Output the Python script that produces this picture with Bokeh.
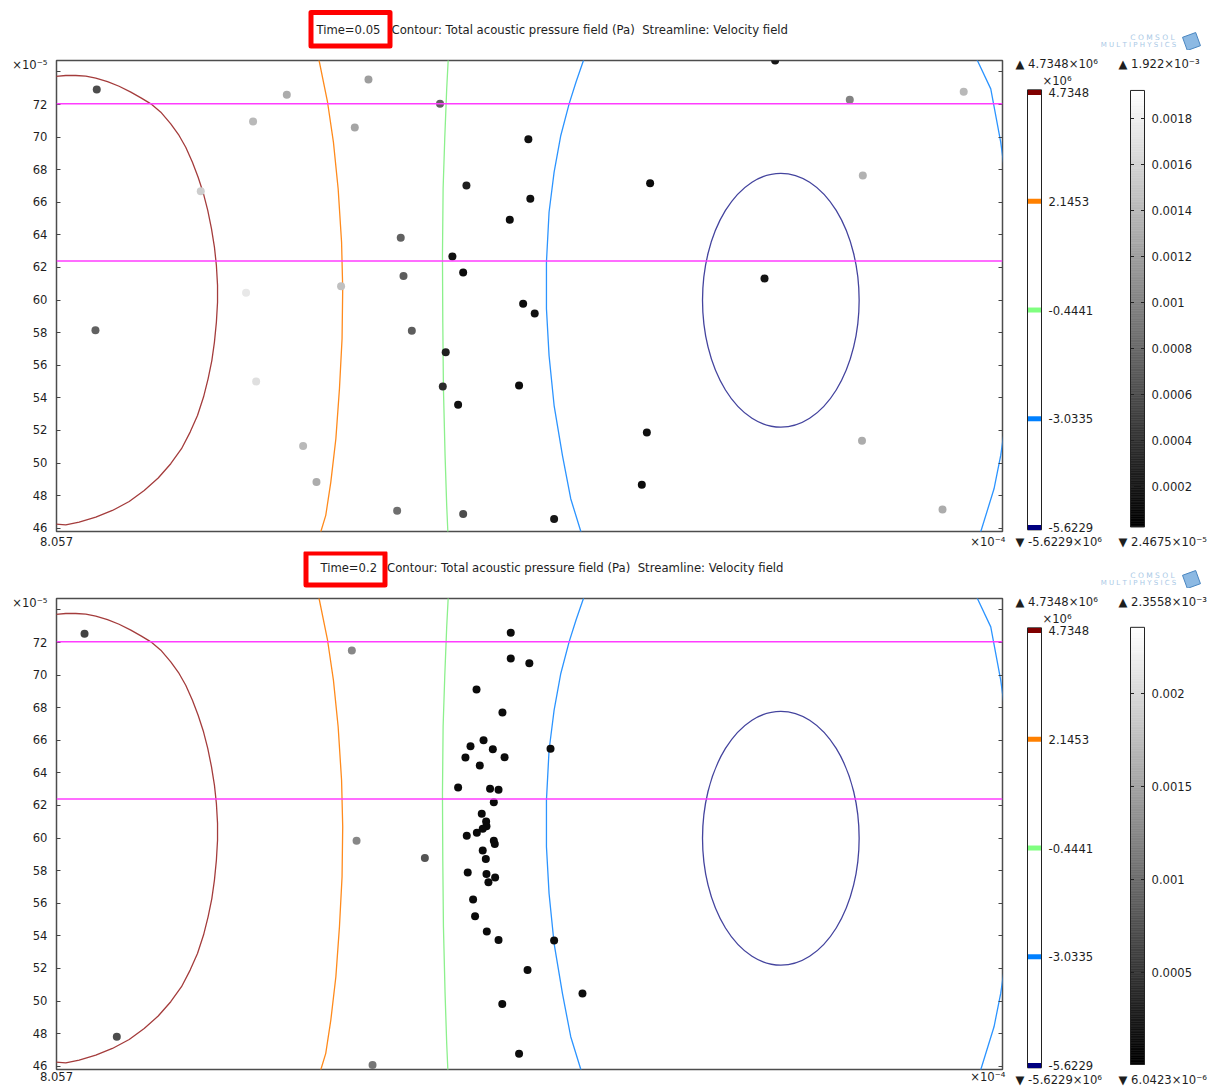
import numpy as np
from bokeh.plotting import figure
from bokeh.layouts import column, row
from bokeh.models import Range1d, LinearAxis, FixedTicker, Span, ColumnDataSource
from bokeh.transform import linear_cmap
from bokeh.core.properties import value
from bokeh.embed import file_html
from bokeh.resources import INLINE

FONT = "DejaVu Sans"
TXT = "#1e1e1e"
FS = "11.6px"

# ---------------- data ----------------
time_labels = ["Time=0.05", "Time=0.2"]
caption = "Contour: Total acoustic pressure field (Pa)\u00a0 Streamline: Velocity field"

# x in units of 1e-5 m (axis shows 8.057 x1e-4), y in units of 1e-5 m
x_start, x_end = 80.57, 138.61
y_start, y_end = 45.80, 74.70
y_ticks = list(range(46, 76, 2))
y_exp_pos, y_exp_label = 74.45, "×10⁻⁵"
x_tick_values = [80.571, 137.71]
x_tick_labels = ["8.057", "×10⁻⁴"]

# pressure contour levels (x1e6 Pa)
pressure_levels = [4.7348, 2.1453, -0.4441, -3.0335, -5.6229]
pressure_max_label = "4.7348×10⁶"
pressure_min_label = "-5.6229×10⁶"

# contour 4.7348
c_hi_x = [80.0, 80.53, 81.14, 81.75, 82.37, 82.98, 83.70, 84.41, 85.13, 85.78, 86.36, 86.97,
          87.58, 88.09, 88.50, 88.91, 89.26, 89.59, 89.85, 90.08, 90.26, 90.38, 90.45, 90.45,
          90.38, 90.26, 90.10, 89.87, 89.59, 89.22, 88.77, 88.24, 87.58, 86.81, 85.95, 85.03,
          84.00, 82.98, 81.96, 81.14, 80.53, 80.0]
c_hi_y = [73.60, 73.72, 73.78, 73.78, 73.74, 73.62, 73.41, 73.12, 72.76, 72.39, 72.04, 71.53,
          70.81, 70.10, 69.38, 68.46, 67.54, 66.52, 65.50, 64.37, 63.25, 62.12, 60.90, 59.87,
          58.65, 57.42, 56.29, 55.17, 54.05, 52.92, 51.90, 50.88, 49.96, 49.08, 48.32, 47.64,
          47.09, 46.68, 46.38, 46.21, 46.25, 46.35]
# contour 2.1453
c_or_x = [96.60, 96.68, 97.20, 97.56, 97.85, 98.06, 98.13, 98.09, 97.93, 97.71, 97.40, 97.09, 96.79, 96.69]
c_or_y = [75.01, 74.70, 72.14, 69.69, 66.83, 63.55, 60.69, 57.63, 54.56, 51.49, 48.83, 46.79, 45.80, 45.50]
# contour -0.4441
c_gr_x = [104.60, 104.60, 104.51, 104.39, 104.29, 104.25, 104.27, 104.31, 104.41, 104.51, 104.58, 104.59]
c_gr_y = [75.01, 74.70, 72.96, 69.90, 66.83, 62.74, 58.64, 54.56, 50.47, 47.40, 45.80, 45.50]
# contour -3.0335 (two branches)
c_bl_x = [113.00, 112.90, 112.45, 112.02, 111.51, 111.10, 110.79, 110.63, 110.63, 110.79, 111.10,
          111.61, 112.12, 112.74, 112.83]
c_bl_y = [75.01, 74.70, 73.40, 72.04, 70.10, 67.85, 65.39, 62.33, 59.47, 56.60, 53.53,
          50.47, 47.81, 45.80, 45.50]
c_bl2_x = [136.91, 137.07, 137.89, 138.50, 138.99, 139.24, 138.99, 138.50, 138.09, 137.28, 137.15]
c_bl2_y = [75.01, 74.70, 72.96, 69.69, 66.11, 59.98, 53.84, 50.47, 48.42, 45.80, 45.50]
# contour -5.6229 (closed loop)
c_lo_cx, c_lo_cy, c_lo_w, c_lo_h = 125.01, 59.99, 9.61, 15.58

# streamlines of the velocity field
streamline_y = [72.04, 62.39]

# particle positions and speeds (x1e-3 m/s)
p1_x = [83.04, 94.70, 99.71, 104.10, 92.63, 98.87, 109.52, 105.72, 109.64, 108.38, 89.42, 101.69,
        104.86, 105.52, 101.86, 92.20, 98.03, 109.20, 102.37, 82.96, 104.45, 92.82, 104.27, 108.95,
        105.21, 95.70, 96.52, 101.47, 105.52, 124.66, 129.24, 136.23, 116.99, 130.04, 124.01,
        109.91, 116.79, 129.99, 116.48, 111.10, 134.93]
p1_y = [72.92, 72.60, 73.53, 72.04, 70.96, 70.59, 69.87, 67.03, 66.21, 64.93, 66.68, 63.82,
        62.67, 61.69, 61.47, 60.45, 60.85, 59.77, 58.12, 58.15, 56.80, 55.01, 54.70, 54.76,
        53.58, 51.04, 48.83, 47.07, 46.87, 74.70, 72.29, 72.78, 67.17, 67.64, 61.33,
        59.18, 51.88, 51.37, 48.67, 46.56, 47.15]
p1_speed = [0.60, 1.30, 1.20, 0.75, 1.40, 1.25, 0.15, 0.25, 0.15, 0.12, 1.55, 0.75,
            0.15, 0.12, 0.72, 1.75, 1.45, 0.12, 0.72, 0.75, 0.25, 1.68, 0.35, 0.12,
            0.15, 1.40, 1.30, 0.85, 0.60, 0.20, 1.00, 1.40, 0.12, 1.35, 0.18,
            0.15, 0.15, 1.30, 0.12, 0.20, 1.30]

p2_x = [82.29, 98.69, 108.44, 108.44, 109.58, 106.34, 107.93, 106.77, 105.97, 107.34, 105.66, 108.06,
        106.54, 105.21, 107.17, 107.69, 107.40, 106.66, 106.93, 106.95, 106.72, 106.36, 105.74, 107.40,
        107.46, 106.72, 106.91, 105.80, 106.95, 107.48, 107.07, 106.13, 106.25, 106.97, 107.69, 109.47,
        107.92, 108.95, 98.98, 103.17, 84.27, 99.96, 110.88, 111.10, 112.84]
p2_y = [72.53, 71.51, 72.60, 71.02, 70.72, 69.12, 67.71, 66.01, 65.64, 65.45, 64.94, 64.96,
        64.45, 63.10, 63.02, 62.96, 62.20, 61.49, 61.02, 60.73, 60.57, 60.33, 60.14, 59.83,
        59.63, 59.24, 58.71, 57.89, 57.79, 57.58, 57.29, 56.23, 55.21, 54.27, 53.74, 51.90,
        49.82, 46.77, 59.83, 58.77, 47.81, 46.07, 65.48, 53.72, 50.47]
p2_speed = [0.62, 1.25, 0.12, 0.11, 0.12, 0.10, 0.12, 0.10, 0.11, 0.10, 0.10, 0.12,
            0.11, 0.10, 0.10, 0.11, 0.10, 0.10, 0.11, 0.10, 0.10, 0.10, 0.11, 0.10,
            0.10, 0.10, 0.11, 0.10, 0.10, 0.11, 0.10, 0.11, 0.10, 0.11, 0.12, 0.12,
            0.12, 0.13, 1.25, 0.78, 0.72, 1.10, 0.12, 0.12, 0.13]

speed_low = [2.4675e-5, 6.0423e-6]
speed_high = [1.922e-3, 2.3558e-3]
speed_max_label = ["1.922×10⁻³", "2.3558×10⁻³"]
speed_min_label = ["2.4675×10⁻⁵", "6.0423×10⁻⁶"]
speed_ticks = [[0.0002, 0.0004, 0.0006, 0.0008, 0.001, 0.0012, 0.0014, 0.0016, 0.0018],
               [0.0005, 0.001, 0.0015, 0.002]]

# ---------------- styling ----------------
GRAYS = ["#%02x%02x%02x" % (i, i, i) for i in range(256)]
level_colors = ["#800000", "#ff8000", "#80ff80", "#0080ff", "#000080"]
line_colors = ["#a43c3c", "#ff8a1c", "#8cf08c", "#2c94ff", "#44449e"]
MAGENTA = "#ff3cff"
LOGO = "#a9c9e6"
BLANK = {t: "" for t in y_ticks}


def text_kw(size=FS, color=TXT, align="left", baseline="middle"):
    return dict(text_font=value(FONT), text_font_size=size, text_color=color,
                text_align=align, text_baseline=baseline)


def header(i, height, box, ty, logo_y):
    h = figure(width=1213, height=height, x_range=Range1d(0, 1213), y_range=Range1d(height, 0),
               output_backend="svg", toolbar_location=None, min_border=0,
               x_axis_location=None, y_axis_location=None, outline_line_color=None)
    h.grid.visible = False
    l, r, t, b = box
    h.quad(left=[l], right=[r], top=[t], bottom=[b], fill_color=None,
           line_color="#ff0000", line_width=5, line_join="round")
    h.text(x=[l + 5.5 if i == 0 else l + 14.5], y=[ty], text=[time_labels[i]], **text_kw())
    h.text(x=[r + 0.5 + (1 if i == 0 else 1.5)], y=[ty], text=[caption], **text_kw(size="11.7px"))
    # logo
    h.text(x=[1152], y=[logo_y - 4], text=["C O M S O L"], **text_kw(size="7.5px", color=LOGO, align="center"))
    h.text(x=[1138], y=[logo_y + 3], text=["M U L T I P H Y S I C S"],
           **text_kw(size="7px", color=LOGO, align="center"))
    h.scatter(x=[1191], y=[logo_y], marker="square", size=14, angle=0.35,
              fill_color="#6fa8dc", line_color="#4a86c0", fill_alpha=0.8)
    return h


def main_panel(px, py, pv, low, high, standoff, bottom):
    p = figure(frame_width=946, frame_height=471, x_range=Range1d(x_start, x_end),
               y_range=Range1d(y_start, y_end), min_border_left=56, min_border_right=11,
               min_border_top=10, min_border_bottom=bottom, output_backend="svg",
               toolbar_location=None, background_fill_color="white")
    p.grid.visible = False
    p.outline_line_color = "#4d4d4d"
    p.outline_line_width = 1.5

    # left: tick marks on the inner axis, labels on the outer one
    p.yaxis.ticker = FixedTicker(ticks=y_ticks)
    p.yaxis.major_label_overrides = BLANK
    p.yaxis.major_tick_in = 4
    p.yaxis.major_tick_out = 0
    p.yaxis.major_tick_line_color = "#444444"
    p.yaxis.major_label_standoff = 0
    p.yaxis.axis_line_color = None
    p.yaxis.minor_tick_line_color = None
    lab_ticks = y_ticks[:-1] + [y_exp_pos]
    left_labels = LinearAxis(ticker=FixedTicker(ticks=lab_ticks),
                             major_label_overrides={y_exp_pos: y_exp_label},
                             major_tick_line_color=None, major_tick_in=0, major_tick_out=0,
                             minor_tick_line_color=None, axis_line_color=None,
                             major_label_text_font=FONT, major_label_text_font_size=FS,
                             major_label_text_color=TXT, major_label_standoff=9)
    p.add_layout(left_labels, "left")

    # bottom: only the origin value and the exponent
    p.xaxis.ticker = FixedTicker(ticks=x_tick_values)
    p.xaxis.major_label_overrides = dict(zip(x_tick_values, x_tick_labels))
    p.xaxis.axis_line_color = None
    p.xaxis.minor_tick_line_color = None
    p.xaxis.major_tick_line_color = None
    p.xaxis.major_tick_in = 0
    p.xaxis.major_tick_out = 0
    p.xaxis.major_label_standoff = standoff
    p.xaxis.major_label_text_font = FONT
    p.xaxis.major_label_text_font_size = FS
    p.xaxis.major_label_text_color = TXT

    right = LinearAxis(ticker=FixedTicker(ticks=y_ticks), major_label_overrides=BLANK,
                       major_tick_in=4, major_tick_out=0,
                       major_tick_line_color="#444444", axis_line_color=None,
                       minor_tick_line_color=None, major_label_standoff=0)
    p.add_layout(right, "right")

    # streamlines
    for yv in streamline_y:
        p.add_layout(Span(location=yv, dimension="width", line_color=MAGENTA, line_width=1.5))

    # pressure contours
    lw = 1.3
    p.line(c_hi_x, c_hi_y, line_color=line_colors[0], line_width=lw, line_join="round")
    p.line(c_or_x, c_or_y, line_color=line_colors[1], line_width=lw, line_join="round")
    p.line(c_gr_x, c_gr_y, line_color=line_colors[2], line_width=lw, line_join="round")
    p.line(c_bl_x, c_bl_y, line_color=line_colors[3], line_width=lw, line_join="round")
    p.line(c_bl2_x, c_bl2_y, line_color=line_colors[3], line_width=lw, line_join="round")
    p.ellipse(x=[c_lo_cx], y=[c_lo_cy], width=[c_lo_w], height=[c_lo_h],
              fill_color=None, line_color=line_colors[4], line_width=lw)

    # particles coloured by speed
    src = ColumnDataSource(dict(x=px, y=py, v=list(np.array(pv) * 1e-3)))
    p.scatter("x", "y", source=src, size=8, line_color=None,
              fill_color=linear_cmap("v", GRAYS, low, high))
    return p


def side_panel(i, speed_range):
    low, high = speed_low[i], speed_high[i]
    s = figure(width=200, height=498, x_range=Range1d(1013, 1213), y_range=Range1d(498, 0),
               output_backend="svg", toolbar_location=None, min_border=0,
               x_axis_location=None, y_axis_location=None, outline_line_color=None)
    s.grid.visible = False
    s.extra_y_ranges = {"lvl": Range1d(-6.1223, 5.7348), "spd": Range1d(*speed_range)}

    # contour level legend
    s.text(x=[1015], y=[13.3], text=["▲ " + pressure_max_label], **text_kw())
    s.text(x=[1042], y=[30], text=["×10⁶"], **text_kw())
    s.text(x=[1015], y=[491.7], text=["▼ " + pressure_min_label], **text_kw())
    s.quad(left=[1027], right=[1041], top=[max(pressure_levels) + 0.064],
           bottom=[min(pressure_levels) - 0.055], y_range_name="lvl",
           fill_color="white", line_color="#222222", line_width=1)
    s.rect(x=[1034] * 5, y=pressure_levels, width=13, height=5, height_units="screen",
           y_range_name="lvl", fill_color=level_colors, line_color=None)
    s.text(x=[1048] * 5, y=pressure_levels, text=[f"{v:.4f}" for v in pressure_levels],
           y_range_name="lvl", **text_kw())

    # speed colour legend
    ramp = np.linspace(low, high, 257)
    mid = (ramp[:-1] + ramp[1:]) / 2
    rsrc = ColumnDataSource(dict(b=ramp[:-1], t=ramp[1:], m=mid))
    s.quad(left=1130, right=1144, bottom="b", top="t", source=rsrc, y_range_name="spd",
           fill_color=linear_cmap("m", GRAYS, low, high),
           line_color=linear_cmap("m", GRAYS, low, high), line_width=0.6)
    s.quad(left=[1130], right=[1144], top=[high], bottom=[low], y_range_name="spd",
           fill_color=None, line_color="#222222", line_width=1)
    tk = speed_ticks[i]
    s.segment(x0=[1130] * len(tk), x1=[1133.5] * len(tk), y0=tk, y1=tk, y_range_name="spd",
              line_color="#222222", line_width=1)
    s.segment(x0=[1140.5] * len(tk), x1=[1144] * len(tk), y0=tk, y1=tk, y_range_name="spd",
              line_color="#222222", line_width=1)
    s.text(x=[1151] * len(tk), y=tk, text=[str(v) for v in tk], y_range_name="spd", **text_kw())
    s.text(x=[1118], y=[13.3], text=["▲ " + speed_max_label[i]], **text_kw())
    s.text(x=[1118], y=[491.7], text=["▼ " + speed_min_label[i]], **text_kw())
    return s


h1 = header(0, 50, (310.5, 389.5, 12, 45.5), 29, 41)
m1 = main_panel(p1_x, p1_y, p1_speed, speed_low[0], speed_high[0], 3, 20)
s1 = side_panel(0, (-6.957e-5, 2.0957e-3))
h2 = header(1, 37, (305.5, 384.5, 1.5, 33.5), 16, 28)
m2 = main_panel(p2_x, p2_y, p2_speed, speed_low[1], speed_high[1], 0, 17)
s2 = side_panel(1, (-1.129e-4, 2.5645e-3))

layout = column(h1, row(m1, column(s1)), h2, row(m2, column(s2)))

with open("out.html", "w") as f:
    f.write(file_html(layout, INLINE))
